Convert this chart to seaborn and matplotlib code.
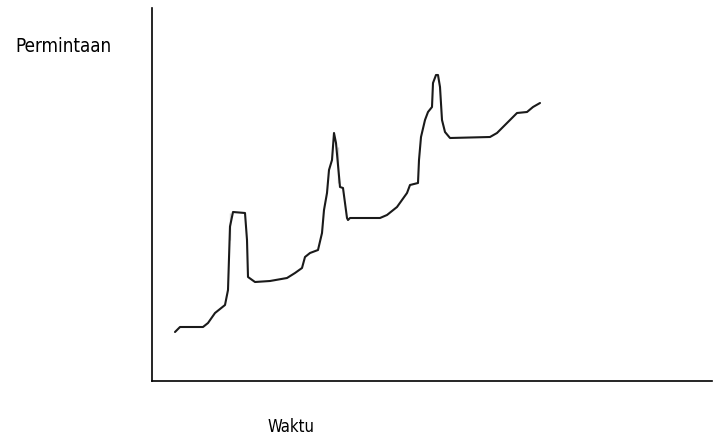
import matplotlib
matplotlib.use("Agg")
import matplotlib.pyplot as plt
import seaborn as sns
import pandas as pd

# waktu (sumbu x) dan permintaan (sumbu y)
waktu = [23, 28, 51, 56, 63, 73, 76, 78, 78, 81, 93, 95, 96, 103, 118, 135, 143,
         150, 153, 158, 166, 170, 172, 175, 177, 180, 182, 184, 186, 186, 188,
         191, 195, 196, 198, 228, 235, 245, 255, 258, 266, 267, 269, 273, 276,
         280, 281, 284, 286, 288, 290, 293, 298, 338, 345, 355, 365, 375, 381, 388]
permintaan = [49, 54, 54, 58, 68, 76, 91, 141, 168, 169, 168, 141, 104, 99, 100,
              103, 108, 113, 124, 128, 131, 148, 171, 188, 211, 221, 248, 238, 234,
              198, 194, 193, 163, 161, 163, 163, 166, 174, 188, 196, 198, 221, 244,
              261, 269, 274, 298, 306, 306, 294, 261, 249, 243, 244, 248, 258, 268,
              269, 274, 278]

df = pd.DataFrame({"Waktu": waktu, "Permintaan": permintaan})

sns.set_style("white")
plt.rcParams['font.family'] = ['DejaVu Sans']

fig = plt.figure(figsize=(7.18, 4.44), dpi=100)
ax = fig.add_axes([152 / 718, 63 / 444, 560 / 718, 373 / 444])

sns.lineplot(data=df, x="Waktu", y="Permintaan", ax=ax, color="#1a1a1a",
             linewidth=1.5, sort=False)

ax.set_xlim(0, 560)
ax.set_ylim(0, 373)
ax.set_xticks([])
ax.set_yticks([])
ax.set_xlabel("")
ax.set_ylabel("")
sns.despine(ax=ax)
for s in ["left", "bottom"]:
    ax.spines[s].set_color("black")
    ax.spines[s].set_linewidth(1.2)

# label sumbu di luar area plot (huruf sempit seperti aslinya)
fig.text(15 / 718, 1 - 46 / 444, "Permintaan", fontsize=13.5, fontstretch="condensed",
         ha="left", va="center", color="black")
fig.text(267 / 718, 1 - 427 / 444, "Waktu", fontsize=12, fontstretch="condensed",
         ha="left", va="center", color="black")

plt.savefig("out.png", dpi=100)
plt.close()
